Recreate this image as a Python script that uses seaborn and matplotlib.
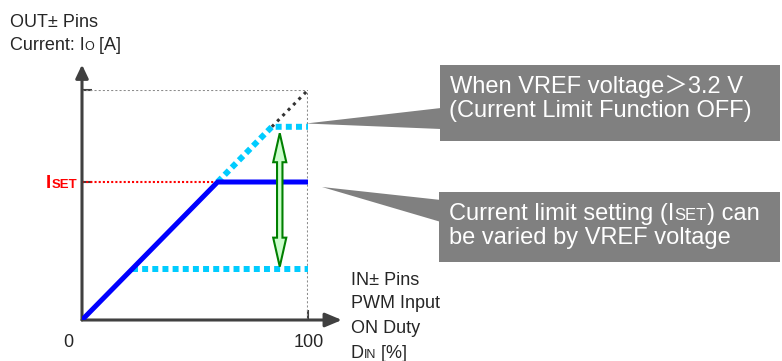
import matplotlib
matplotlib.use('Agg')
import matplotlib.pyplot as plt
import seaborn as sns
from matplotlib.patches import Polygon

# --- values of the diagram, in % of full scale ---
duty_limit = [0, 60, 100]      # solid blue: current limited at ISET
io_limit = [0, 60, 60]
duty_hi = [60, 84, 100]        # cyan dashed: higher ISET
io_hi = [60, 84, 84]
duty_lo = [22, 100]            # cyan dashed: lower ISET
io_lo = [22, 22]
duty_off = [84, 100]           # black dotted: limit OFF
io_off = [84, 100]
iset = 60
full_scale = 100
arrow_duty = 87.5
arrow_io = [23.2, 81.2]

# callout boxes (figure pixels: left, top, right, bottom) and their pointer wedges
box_rects = [(440, 65, 780, 141), (439, 192, 780, 262)]
box_wedges = [[(306, 123.5), (441, 108), (441, 129)],
              [(322, 187), (441, 200), (441, 222)]]

FONT = ['Liberation Sans', 'Noto Sans CJK JP', 'DejaVu Sans']
AXIS_C = '#404040'
GUIDE_C = '#8C8C8C'

sns.set_style('white')
plt.rcParams['font.family'] = FONT

fig = plt.figure(figsize=(7.82, 3.61), dpi=100)
ax = fig.add_axes([82 / 782, 41 / 361, 226 / 782, 230 / 361])
ax.set_xlim(0, 100)
ax.set_ylim(0, 100)
for s in ax.spines.values():
    s.set_visible(False)
ax.set_facecolor('none')

# guide lines
ax.plot([0, full_scale], [full_scale, full_scale], color=GUIDE_C, lw=1.5,
        linestyle=(0, (1, 1.0)), zorder=1)
ax.plot([full_scale, full_scale], [0, full_scale], color=GUIDE_C, lw=1.5,
        linestyle=(0, (1, 1.0)), zorder=1)
ax.plot([0, duty_limit[1]], [iset, iset], color='red', lw=1.5,
        linestyle=(0, (1, 1.0)), zorder=1)

# curves
sns.lineplot(x=duty_off, y=io_off, ax=ax, color='#333333', lw=2.2,
             linestyle=(0, (1, 1.5)), sort=False, legend=False, zorder=2)
sns.lineplot(x=duty_hi, y=io_hi, ax=ax, color='#00CCFF', lw=4.3,
             linestyle=(0, (1, 0.7)), sort=False, legend=False, zorder=3,
             dash_capstyle='butt')
sns.lineplot(x=duty_lo, y=io_lo, ax=ax, color='#00CCFF', lw=4.3,
             linestyle=(0, (1, 0.7)), sort=False, legend=False, zorder=3,
             dash_capstyle='butt')
sns.lineplot(x=duty_limit, y=io_limit, ax=ax, color='#0000FF', lw=3.6,
             sort=False, legend=False, zorder=4)

# axes with arrow heads
ax.annotate('', xy=(0, 111), xytext=(0, 0), annotation_clip=False,
            arrowprops=dict(arrowstyle='-|>,head_length=0.8,head_width=0.38',
                            mutation_scale=10, lw=2.2, color=AXIS_C,
                            shrinkA=0, shrinkB=0))
ax.annotate('', xy=(115, 0), xytext=(0, 0), annotation_clip=False,
            arrowprops=dict(arrowstyle='-|>,head_length=1.0,head_width=0.42',
                            mutation_scale=10, lw=2.2, color=AXIS_C,
                            shrinkA=0, shrinkB=0))
ax.set_yticks([iset, full_scale])
ax.set_xticks([full_scale])
ax.set_yticklabels([])
ax.set_xticklabels([])
ax.tick_params(direction='in', length=7.2, width=1.5, color=AXIS_C,
               left=True, bottom=True)

# green double arrow: ISET can be varied
def double_arrow(x, y0, y1, shaft=2.4, head=5.8, head_len=12.6):
    pts = [(x, y1), (x + head / 2, y1 - head_len), (x + shaft / 2, y1 - head_len),
           (x + shaft / 2, y0 + head_len), (x + head / 2, y0 + head_len), (x, y0),
           (x - head / 2, y0 + head_len), (x - shaft / 2, y0 + head_len),
           (x - shaft / 2, y1 - head_len), (x - head / 2, y1 - head_len)]
    return Polygon(pts, closed=True, facecolor='#CCFFCC', edgecolor='#008000',
                   lw=1.5, joinstyle='miter', zorder=5, clip_on=False)

ax.add_patch(double_arrow(arrow_duty, arrow_io[0], arrow_io[1]))

# overlay in figure pixels for callouts and labels
ov = fig.add_axes([0, 0, 1, 1], zorder=10)
ov.set_xlim(0, 782)
ov.set_ylim(361, 0)
ov.axis('off')

for (l, t, r, b), w in zip(box_rects, box_wedges):
    ov.add_patch(Polygon([(l, t), (r, t), (r, b), (l, b)], closed=True,
                         facecolor='#808080', edgecolor='none'))
    ov.add_patch(Polygon(w, closed=True, facecolor='#808080', edgecolor='none'))

renderer = fig.canvas.get_renderer()


def runs(x, y, parts, **kw):
    for s, size in parts:
        t = ov.text(x, y, s, fontsize=size, va='baseline', ha='left', **kw)
        bb = t.get_window_extent(renderer=renderer)
        x = ov.transData.inverted().transform((bb.x1, bb.y0))[0]


runs(10, 27, [('OUT± Pins', 13)])
runs(10, 50.5, [('Current: I', 13), ('O', 9), (' [A]', 13)])
runs(351, 285, [('IN± Pins', 13)])
runs(351, 308.5, [('PWM Input', 13)])
runs(351, 333, [('ON Duty', 13)])
runs(351, 358, [('D', 13), ('IN', 9), (' [%]', 13)])
ov.text(68, 347, '0', fontsize=13, ha='center', va='baseline')
ov.text(308.5, 347, '100', fontsize=13, ha='center', va='baseline')
runs(46, 188, [('I', 13.5), ('SET', 9.5)], color='red', fontweight='bold')

runs(450, 93, [('When VREF voltage＞3.2 V', 17)], color='white')
runs(449, 117, [('(Current Limit Function OFF)', 17)], color='white')
runs(449, 220, [('Current limit setting (I', 17), ('SET', 12),
                (') can', 17)], color='white')
runs(449, 244, [('be varied by VREF voltage', 17)], color='white')

fig.savefig('out.png', dpi=100)
